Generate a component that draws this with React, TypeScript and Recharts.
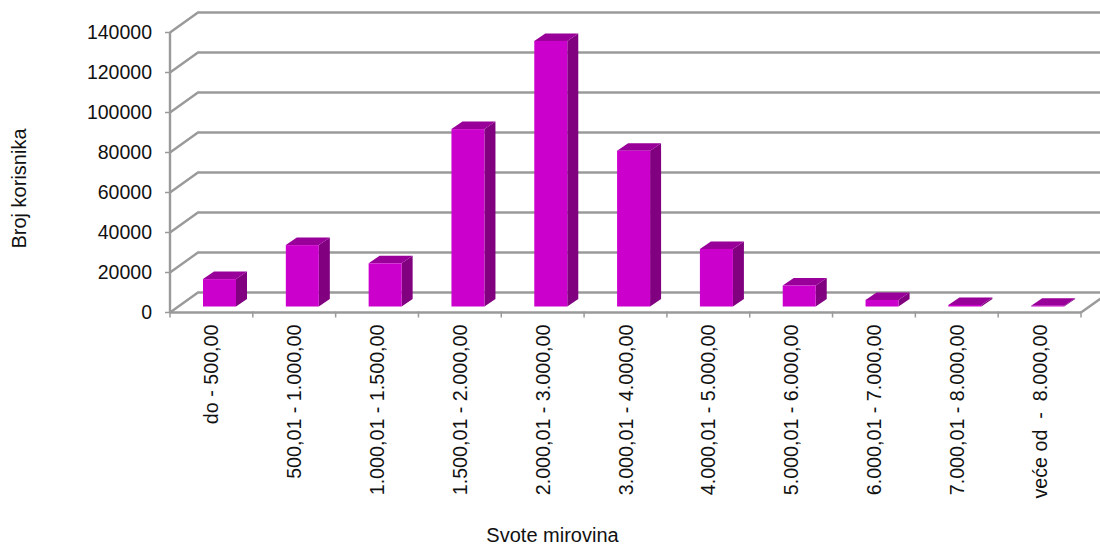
import React from "react";
import { BarChart, Bar, XAxis, YAxis, CartesianGrid, Label } from "recharts";

const categories = [
  "do - 500,00",
  "500,01 - 1.000,00",
  "1.000,01 - 1.500,00",
  "1.500,01 - 2.000,00",
  "2.000,01 - 3.000,00",
  "3.000,01 - 4.000,00",
  "4.000,01 - 5.000,00",
  "5.000,01 - 6.000,00",
  "6.000,01 - 7.000,00",
  "7.000,01 - 8.000,00",
  "veće od  -  8.000,00",
];
const korisnici = [13700, 30700, 21600, 88700, 132800, 77900, 28800, 10500, 3300, 800, 400];
const yTicks = [0, 20000, 40000, 60000, 80000, 100000, 120000, 140000];

const data = categories.map((name, i) => ({ name, korisnici: korisnici[i] }));

const FONT = "Liberation Sans, Arial, sans-serif";
const TEXT = "#111";
const GRID = "#9a9a9a";
const BAND = 911 / categories.length;

// fake 3D: wall offset for the grid, smaller offset + depth for the bars
const WALL_DX = 28;
const WALL_DY = 20;
const BAR_DX = 8;
const BAR_DY = 6;
const DEPTH_X = 11;
const DEPTH_Y = 7.5;

function Bar3D(props: any) {
  const x = props.x + BAR_DX;
  const y = props.y - BAR_DY;
  const { width: w, height: h } = props;
  return (
    <g>
      <polygon
        points={`${x + w},${y} ${x + w + DEPTH_X},${y - DEPTH_Y} ${x + w + DEPTH_X},${y + h - DEPTH_Y} ${x + w},${y + h}`}
        fill="#800080"
      />
      <polygon
        points={`${x},${y} ${x + DEPTH_X},${y - DEPTH_Y} ${x + w + DEPTH_X},${y - DEPTH_Y} ${x + w},${y}`}
        fill="#990099"
      />
      <rect x={x} y={y} width={w} height={h} fill="#CC00CC" />
    </g>
  );
}

function GridLine(props: any) {
  const { x1, x2, y1, index } = props;
  const floor = y1 > 300;
  return (
    <g key={index}>
      <polyline
        points={`${x1},${y1} ${x1 + WALL_DX},${y1 - WALL_DY} ${x2 + WALL_DX},${y1 - WALL_DY}`}
        fill="none"
        stroke={GRID}
        strokeWidth={2.4}
      />
      {floor && (
        <line x1={x2} y1={y1} x2={x2 + WALL_DX} y2={y1 - WALL_DY} stroke={GRID} strokeWidth={2.4} />
      )}
    </g>
  );
}

function CategoryTick(props: any) {
  const { x, y, payload, index } = props;
  const left = x - BAND / 2;
  return (
    <g>
      <line x1={left} y1={y - 1} x2={left} y2={y + 5} stroke={GRID} strokeWidth={1.5} />
      {index === categories.length - 1 && (
        <line x1={x + BAND / 2} y1={y - 1} x2={x + BAND / 2} y2={y + 5} stroke={GRID} strokeWidth={1.5} />
      )}
      <text
        x={x}
        y={y + 12}
        transform={`rotate(-90 ${x} ${y + 12})`}
        textAnchor="end"
        dominantBaseline="central"
        fontSize={19.7}
        fontFamily={FONT}
        fill={TEXT}
        style={{ whiteSpace: "pre" }}
      >
        {payload.value}
      </text>
    </g>
  );
}

export default function App() {
  return (
    <div style={{ position: "absolute", left: 0, top: 0, width: 1100, height: 546, overflow: "hidden" }}>
      <BarChart
        width={1100}
        height={546}
        data={data}
        margin={{ top: 32.5, right: 19, bottom: 0, left: 0 }}
        barSize={33}
        style={{ display: "block" }}
      >
        <CartesianGrid vertical={false} horizontal={GridLine as any} syncWithTicks />
        <XAxis
          dataKey="name"
          height={233.5}
          interval={0}
          axisLine={{ stroke: GRID, strokeWidth: 2.4 }}
          tickLine={false}
          tick={CategoryTick as any}
          tickMargin={0}
          tickSize={0}
        >
          <Label
            value="Svote mirovina"
            position="insideBottom"
            offset={4}
            dx={-73}
            fontSize={20}
            fontFamily={FONT}
            fill={TEXT}
          />
        </XAxis>
        <YAxis
          width={170}
          domain={[0, 140000]}
          ticks={yTicks}
          interval={0}
          axisLine={{ stroke: GRID, strokeWidth: 2.4 }}
          tickLine={{ stroke: GRID, strokeWidth: 1.5 }}
          tickSize={5}
          tickMargin={13}
          tick={{ fontSize: 19.5, fontFamily: FONT, fill: TEXT }}
        >
          <Label
            value="Broj korisnika"
            angle={-90}
            position="insideLeft"
            offset={0}
            dx={19}
            dy={76}
            fontSize={20}
            fontFamily={FONT}
            fill={TEXT}
          />
        </YAxis>
        <Bar dataKey="korisnici" shape={Bar3D as any} isAnimationActive={false} />
      </BarChart>
    </div>
  );
}
